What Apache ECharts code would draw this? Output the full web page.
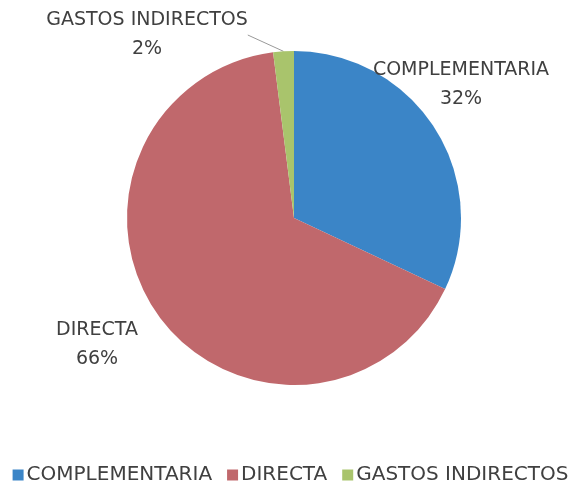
<!DOCTYPE html>
<html>
<head>
<meta charset="utf-8">
<script src="https://cdn.jsdelivr.net/npm/echarts@6/dist/echarts.min.js"></script>
<style>
  html, body { margin: 0; padding: 0; background: #fff; }
  #chart { width: 581px; height: 499px; }
</style>
</head>
<body>
<div id="chart"></div>
<script>
const categories = ['COMPLEMENTARIA', 'DIRECTA', 'GASTOS INDIRECTOS'];
const values = [32, 66, 2];
const colors = ['#3b85c7', '#c0686c', '#a9c46c'];

const chart = echarts.init(document.getElementById('chart'));

// label anchor per slice (pixel), tuned against the reference
const labelSpots = [
  { x: 461, y: 85 },
  { x: 97, y: 345 },
  { x: 147, y: 35 }
];

const option = {
  animation: false,
  color: colors,
  textStyle: { fontFamily: 'DejaVu Sans' },
  legend: {
    bottom: 9,
    left: 'center',
    itemWidth: 11,
    itemHeight: 11,
    itemGap: 15,
    icon: 'rect',
    textStyle: { fontSize: 20, color: '#404040', padding: [0, 0, 0, -2] },
    data: categories
  },
  series: [{
    type: 'pie',
    center: [294, 218],
    radius: 167,
    startAngle: 90,
    clockwise: true,
    label: {
      show: true,
      position: 'outside',
      formatter: '{b}\n{d}%',
      fontSize: 19,
      lineHeight: 29,
      color: '#404040',
      overflow: 'none',
      align: 'center'
    },
    labelLine: { show: false },
    labelLayout: function (params) {
      const s = labelSpots[params.dataIndex];
      return { x: s.x, y: s.y, align: 'center', verticalAlign: 'middle' };
    },
    data: categories.map((name, i) => ({
      name: name,
      value: values[i],
      labelLine: i === 2 ? { show: true, length: 6, length2: 0, lineStyle: { color: '#999', width: 1 } } : undefined
    }))
  }]
};

chart.setOption(option);
</script>
</body>
</html>
